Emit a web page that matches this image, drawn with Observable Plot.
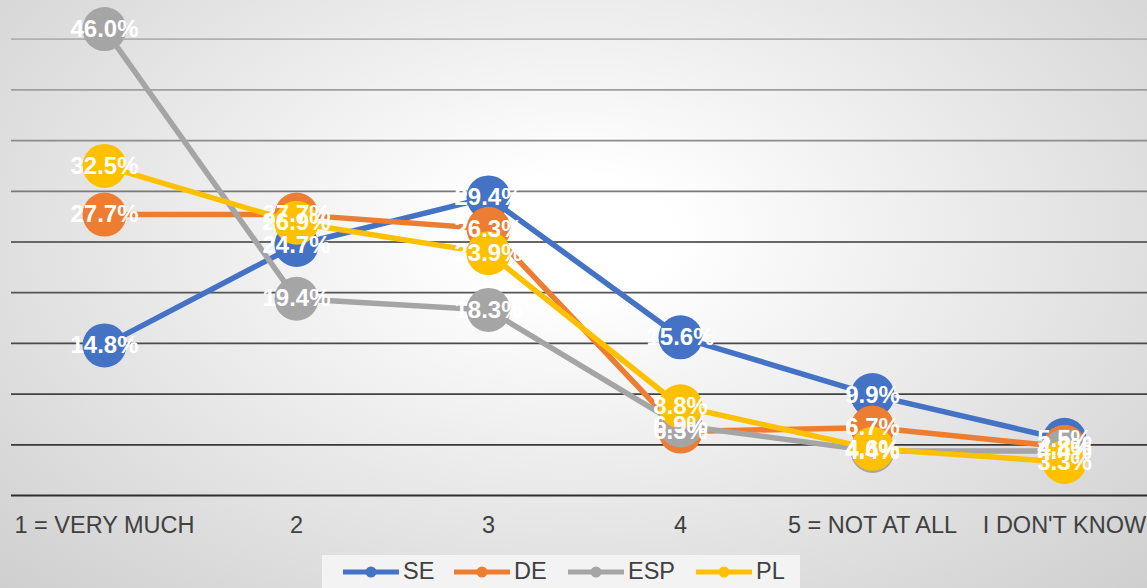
<!DOCTYPE html>
<html>
<head>
<meta charset="utf-8">
<script src="https://cdn.jsdelivr.net/npm/d3@7"></script>
<script src="https://cdn.jsdelivr.net/npm/@observablehq/plot@0.6"></script>
<style>
  html, body { margin: 0; padding: 0; }
  body {
    width: 1147px; height: 588px; overflow: hidden; position: relative;
    background: radial-gradient(ellipse farthest-corner at 50% 40%, #ffffff 0%, #ffffff 12%, #cfcfcf 100%);
    font-family: "Liberation Sans", Arial, sans-serif;
  }
  #chart { position: absolute; left: 0; top: 0; }
  #legend {
    position: absolute; left: 322px; top: 555px; width: 478px; height: 33px;
    background: #f3f3f3;
  }
  .item { position: absolute; top: 0; height: 33px; display: flex; align-items: center; font-size: 23.5px; color: #404040; }
  .item svg { margin-right: 3px; }
</style>
</head>
<body>
<div id="chart"></div>
<div id="legend"></div>
<script>
const categories = ["1 = VERY MUCH", "2", "3", "4", "5 = NOT AT ALL", "I DON'T KNOW"];
const seriesNames = ["SE", "DE", "ESP", "PL"];
const SE  = [14.8, 24.7, 29.4, 15.6, 9.9, 5.5];
const DE  = [27.7, 27.7, 26.3, 6.3, 6.7, 4.8];
const ESP = [46.0, 19.4, 18.3, 6.9, 4.4, 4.4];
const PL  = [32.5, 26.9, 23.9, 8.8, 4.6, 3.3];
const gridTicks = [0, 5, 10, 15, 20, 25, 30, 35, 40, 45];
const colors = {SE: "#4472C4", DE: "#ED7D31", ESP: "#A5A5A5", PL: "#FFC000"};

const valuesBySeries = {SE, DE, ESP, PL};
const data = seriesNames.flatMap(s => categories.map((c, i) => ({series: s, cat: c, value: valuesBySeries[s][i]})));

const gridColor = d3.scaleLinear().domain([0, 20, 45]).range(["#2e2e2e", "#555555", "#b0b0b0"]);

const marks = [
  Plot.ruleY(gridTicks, {y: d => d, stroke: d => gridColor(d), strokeWidth: 1.8, insetLeft: 11})
];
for (const s of seriesNames) {
  const sd = data.filter(d => d.series === s);
  marks.push(Plot.line(sd, {x: "cat", y: "value", stroke: colors[s], strokeWidth: 5.5}));
  marks.push(Plot.dot(sd, {x: "cat", y: "value", r: 22, fill: colors[s], stroke: "none"}));
}
marks.push(Plot.text(data, {
  x: "cat", y: "value", text: d => d.value.toFixed(1) + "%",
  fill: "white", fontSize: 24, fontWeight: "bold", fontFamily: "Liberation Sans, Arial, sans-serif"
}));
marks.push(Plot.text(categories, {
  x: d => d, y: () => 0, dy: 30, text: d => d,
  fill: "#404040", fontSize: 23.5, fontFamily: "Liberation Sans, Arial, sans-serif"
}));

const chart = Plot.plot({
  width: 1147, height: 550,
  marginTop: 0, marginBottom: 0, marginLeft: 0, marginRight: 0,
  style: {background: "transparent", overflow: "visible"},
  x: {type: "point", domain: categories, range: [104, 1064], padding: 0, axis: null},
  y: {domain: [0, 45], range: [495, 38.7], axis: null},
  marks
});
document.getElementById("chart").appendChild(chart);

const legend = document.getElementById("legend");
const legendLeft = [20, 131, 245, 373];
seriesNames.forEach((s, i) => {
  const item = document.createElement("div");
  item.className = "item";
  item.style.left = legendLeft[i] + "px";
  item.innerHTML = `<svg width="58" height="14"><line x1="1" x2="57" y1="7" y2="7" stroke="${colors[s]}" stroke-width="5"/><circle cx="29" cy="7" r="5.5" fill="${colors[s]}"/></svg><span>${s}</span>`;
  legend.appendChild(item);
});
</script>
</body>
</html>
